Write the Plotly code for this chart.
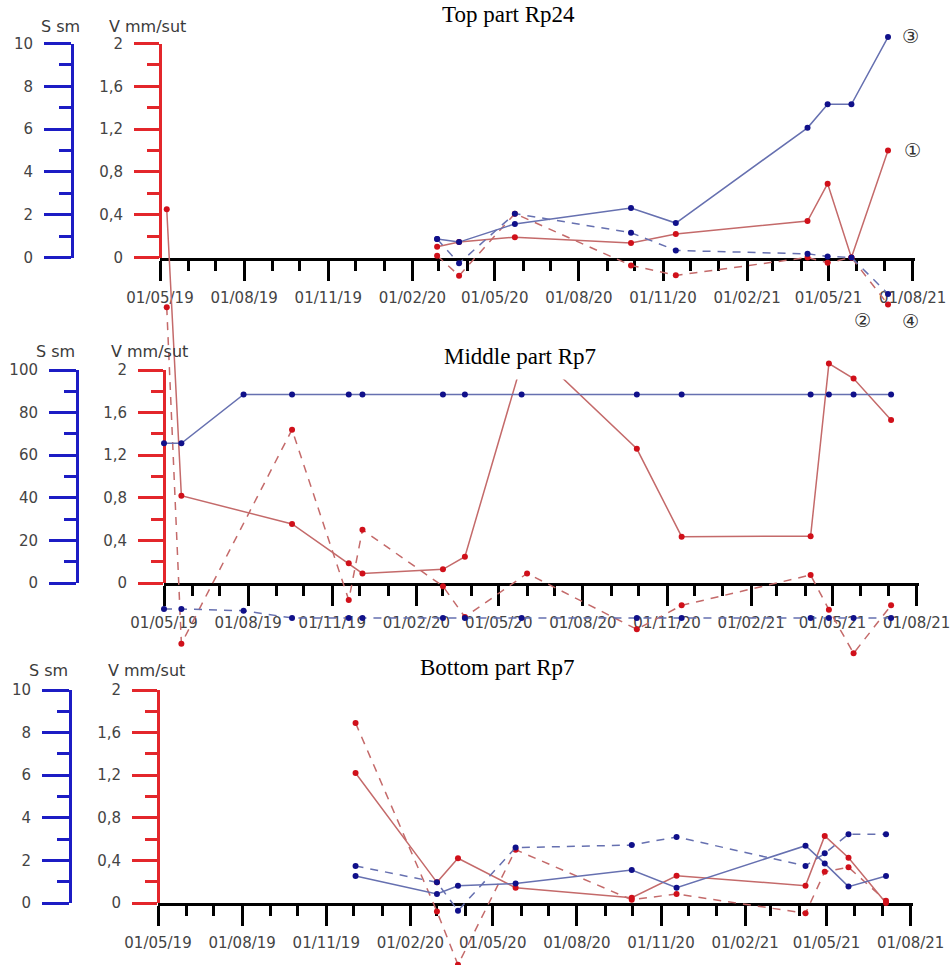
import plotly.graph_objects as go

W, H = 952, 965

# ---------------- data ----------------
# Top part Rp24
top_dates = ["2020-02-28", "2020-03-23", "2020-05-23", "2020-09-27", "2020-11-15",
             "2021-04-08", "2021-04-30", "2021-05-26", "2021-07-05"]
top_v1 = [0.10, 0.145, 0.19, 0.136, 0.22, 0.34, 0.69, 0.0, 1.0]          # (1) V, solid red
top_s3 = [0.86, 0.72, 1.57, 2.31, 1.61, 6.06, 7.16, 7.16, 10.3]          # (3) S, solid blue
top_v2 = [0.017, -0.17, 0.41, -0.074, -0.167, 0.0, -0.05, 0.0, -0.44]    # (2) V, dashed red
top_s4 = [0.86, -0.27, 2.05, 1.16, 0.33, 0.17, 0.05, 0.0, -1.7]          # (4) S, dashed blue

# Middle part Rp7
mid_blue_dates = ["2019-05-01", "2019-05-20", "2019-07-27", "2019-09-18", "2019-11-19",
                  "2019-12-04", "2020-03-01", "2020-03-25", "2020-05-26", "2020-09-29",
                  "2020-11-17", "2021-04-07", "2021-04-27", "2021-05-24", "2021-07-04"]
mid_s3 = [65.6, 65.6, 88.5, 88.5, 88.5, 88.5, 88.5, 88.5, 88.5, 88.5, 88.5, 88.5, 88.5, 88.5, 88.5]
mid_s4 = [-12.2, -12.2, -13, -16.4, -16.4, -16.4, -16.4, -16.4, -16.4, -16.4,
          -16.4, -16.4, -16.4, -16.4, -16.4]
mid_red_dates = ["2019-05-04", "2019-05-20", "2019-09-18", "2019-11-19", "2019-12-04",
                 "2020-03-01", "2020-03-25", "2020-06-01", "2020-09-29", "2020-11-17",
                 "2021-04-07", "2021-04-27", "2021-05-24", "2021-07-04"]
mid_v1 = [3.51, 0.82, 0.554, 0.185, 0.09, 0.128, 0.247, 2.24, 1.26, 0.435,
          0.44, 2.06, 1.92, 1.53]
mid_v2 = [2.59, -0.57, 1.44, -0.16, 0.50, -0.03, -0.32, 0.09, -0.435, -0.21,
          0.075, -0.25, -0.66, -0.21]

# Bottom part Rp7
bot_dates = ["2019-12-03", "2020-03-01", "2020-03-24", "2020-05-26", "2020-09-30",
             "2020-11-18", "2021-04-08", "2021-04-29", "2021-05-25", "2021-07-05"]
bot_v1 = [1.22, 0.194, 0.42, 0.144, 0.05, 0.256, 0.163, 0.63, 0.425, 0.0]
bot_v2 = [1.69, -0.08, -0.58, 0.50, 0.03, 0.085, -0.097, 0.294, 0.335, 0.02]
bot_s3 = [1.27, 0.42, 0.81, 0.92, 1.55, 0.72, 2.69, 1.86, 0.77, 1.27]
bot_s4 = [1.74, 0.97, -0.36, 2.6, 2.72, 3.1, 1.74, 2.33, 3.23, 3.23]

titles = ["Top part Rp24", "Middle part Rp7", "Bottom part Rp7"]
s_label = "S sm"
v_label = "V mm/sut"

# ---------------- layout geometry (pixels) ----------------
panels = [
    dict(red_x=160, blue_x=72, y0=257.5, y2=43.5, smax=10, vlo=-0.55, vhi=2.2,
         title_xy=(508, 14), title_pad=1, s_xy=(61, 27), v_xy=(147, 27)),
    dict(red_x=164, blue_x=77, y0=583, y2=370, smax=100, vlo=-0.78, vhi=3.75,
         title_xy=(520, 356), title_pad=10, s_xy=(55, 351), v_xy=(149, 351)),
    dict(red_x=158, blue_x=70, y0=903, y2=690, smax=10, vlo=-0.65, vhi=2.1,
         title_xy=(497, 667), title_pad=1, s_xy=(48, 670), v_xy=(146, 670)),
]
PX_PER_DAY = 752.7 / 823.0
RANGE_END_DAYS = 825
X_START, X_END = "2019-05-01", "2021-08-03"

series = [
    (top_dates, top_v1, top_dates, top_v2, top_dates, top_s3, top_dates, top_s4),
    (mid_red_dates, mid_v1, mid_red_dates, mid_v2, mid_blue_dates, mid_s3, mid_blue_dates, mid_s4),
    (bot_dates, bot_v1, bot_dates, bot_v2, bot_dates, bot_s3, bot_dates, bot_s4),
]

RED_AX = "#e3262b"
BLUE_AX = "#1c1cc4"
RED_LINE = "#c46a6a"
BLUE_LINE = "#6670b0"
RED_MK = "#d0101a"
BLUE_MK = "#10108a"
TICKFONT = dict(family="DejaVu Sans", size=15, color="#444444")
LABELFONT = dict(family="DejaVu Sans", size=16, color="#3a3a3a")


def fx(px):
    return px / W


def fy(py):
    return 1 - py / H


fig = go.Figure()
layout = dict(width=W, height=H, margin=dict(l=0, r=0, t=0, b=0, autoexpand=False),
              paper_bgcolor="white", plot_bgcolor="rgba(0,0,0,0)",
              showlegend=False, separators=", ", annotations=[])


def yname(n):
    return "yaxis" if n == 1 else f"yaxis{n}"


def yref(n):
    return "y" if n == 1 else f"y{n}"


for k, p in enumerate(panels):
    xk = "x" if k == 0 else f"x{k+1}"
    xname = "xaxis" if k == 0 else f"xaxis{k+1}"
    base = 4 * k + 1
    red_d, blue_d, dv, ds = base, base + 1, base + 2, base + 3
    ppu = (p["y0"] - p["y2"]) / 2.0
    x_right = p["red_x"] + PX_PER_DAY * RANGE_END_DAYS

    layout[xname] = dict(
        type="date", range=[X_START, X_END], domain=[fx(p["red_x"]), fx(x_right)],
        anchor=yref(red_d), showgrid=False, zeroline=False, automargin=False,
        showline=True, linecolor="black", linewidth=3,
        ticks="outside", ticklen=20, tickwidth=3, tickcolor="black",
        tick0="2019-05-01", dtick="M3", tickformat="%d/%m/%y",
        tickfont=TICKFONT, ticklabelstandoff=4,
        minor=dict(dtick="M1", tick0="2019-05-01", ticks="outside", ticklen=10,
                   tickwidth=3, tickcolor="black", showgrid=False),
    )
    dom = [fy(p["y0"]), fy(p["y2"])]
    layout[yname(red_d)] = dict(
        domain=dom, range=[0, 2], anchor="free", position=fx(p["red_x"]), side="left",
        showgrid=False, zeroline=False, automargin=False,
        showline=True, linecolor=RED_AX, linewidth=3,
        ticks="outside", ticklen=25, tickwidth=3, tickcolor=RED_AX, dtick=0.4, tick0=0,
        tickfont=TICKFONT, ticklabelstandoff=8,
        minor=dict(dtick=0.2, tick0=0, ticks="outside", ticklen=12, tickwidth=3,
                   tickcolor=RED_AX, showgrid=False),
    )
    layout[yname(blue_d)] = dict(
        overlaying=yref(red_d), range=[0, p["smax"]], anchor="free",
        position=fx(p["blue_x"]), side="left", automargin=False,
        showgrid=False, zeroline=False, showline=True, linecolor=BLUE_AX, linewidth=3,
        ticks="outside", ticklen=27, tickwidth=3, tickcolor=BLUE_AX,
        dtick=p["smax"] / 5, tick0=0, tickfont=TICKFONT, ticklabelstandoff=8,
        minor=dict(dtick=p["smax"] / 10, tick0=0, ticks="outside", ticklen=12,
                   tickwidth=3, tickcolor=BLUE_AX, showgrid=False),
    )
    # invisible data axes with a taller domain so marks may run past 0..2
    pt = max(0.0, p["y0"] - p["vhi"] * ppu)
    pb = min(float(H), p["y0"] - p["vlo"] * ppu)
    vhi = (p["y0"] - pt) / ppu
    vlo = (p["y0"] - pb) / ppu
    layout[yname(dv)] = dict(domain=[fy(pb), fy(pt)], range=[vlo, vhi], automargin=False,
                             anchor=xk, visible=False, showgrid=False, zeroline=False)
    f = p["smax"] / 2.0
    layout[yname(ds)] = dict(overlaying=yref(dv), range=[vlo * f, vhi * f], automargin=False,
                             anchor=xk, visible=False, showgrid=False, zeroline=False)

    # dummy traces so that display axes are drawn
    for ax in (red_d, blue_d):
        fig.add_trace(go.Scatter(x=[None], y=[None], xaxis=xk, yaxis=yref(ax),
                                 showlegend=False, hoverinfo="skip"))

    d1, v1, d2, v2, d3, s3, d4, s4 = series[k]
    specs = [
        (d1, v1, dv, RED_LINE, RED_MK, "solid"),
        (d2, v2, dv, RED_LINE, RED_MK, "8px,7px"),
        (d3, s3, ds, BLUE_LINE, BLUE_MK, "solid"),
        (d4, s4, ds, BLUE_LINE, BLUE_MK, "8px,7px"),
    ]
    for xs, ys, ax, lc, mc, dash in specs:
        fig.add_trace(go.Scatter(
            x=xs, y=ys, xaxis=xk, yaxis=yref(ax), mode="lines+markers",
            line=dict(color=lc, width=1.5, dash=dash),
            marker=dict(color=mc, size=6), cliponaxis=False,
            showlegend=False, hoverinfo="skip"))

    tx, ty = p["title_xy"]
    layout["annotations"].append(dict(
        text=titles[k], x=fx(tx), y=fy(ty), xref="paper", yref="paper",
        showarrow=False, xanchor="center", yanchor="middle",
        bgcolor="white", borderpad=p["title_pad"],
        font=dict(family="Liberation Serif", size=23, color="black")))
    sx, sy = p["s_xy"]
    layout["annotations"].append(dict(
        text=s_label, x=fx(sx), y=fy(sy), xref="paper", yref="paper",
        showarrow=False, xanchor="center", yanchor="middle", font=LABELFONT))
    vx, vy = p["v_xy"]
    layout["annotations"].append(dict(
        text=v_label, x=fx(vx), y=fy(vy), xref="paper", yref="paper",
        showarrow=False, xanchor="center", yanchor="middle", font=LABELFONT))

# circled series numbers in the top panel
for txt, (cx, cy) in [("③", (910, 36)), ("①", (912, 150)), ("②", (862, 320)), ("④", (910, 321))]:
    layout["annotations"].append(dict(
        text=txt, x=fx(cx), y=fy(cy), xref="paper", yref="paper", showarrow=False,
        xanchor="center", yanchor="middle", borderpad=0,
        font=dict(family="DejaVu Sans, Noto Sans CJK JP", size=19, color="#333333")))

fig.update_layout(**layout)
fig.write_html("out.html")
